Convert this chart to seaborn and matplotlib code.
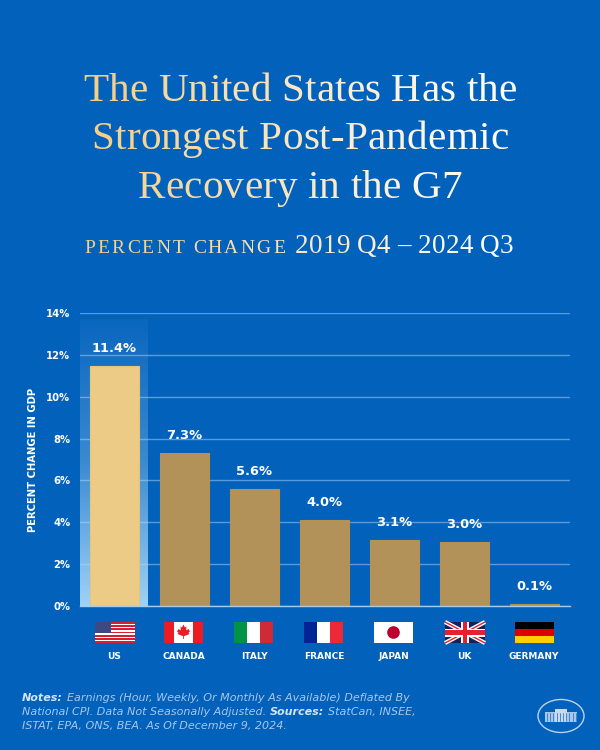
import numpy as np
import pandas as pd
import seaborn as sns
import matplotlib
matplotlib.use('Agg')
import matplotlib.pyplot as plt
from matplotlib.patches import Rectangle, Circle, Ellipse, Polygon
from matplotlib.colors import LinearSegmentedColormap, to_rgb

countries = ["US", "CANADA", "ITALY", "FRANCE", "JAPAN", "UK", "GERMANY"]
gdp_change = [11.45, 7.3, 5.6, 4.1, 3.15, 3.05, 0.1]
bar_labels = ["11.4%", "7.3%", "5.6%", "4.0%", "3.1%", "3.0%", "0.1%"]
y_ticks = [0, 2, 4, 6, 8, 10, 12, 14]
y_tick_labels = ["0%", "2%", "4%", "6%", "8%", "10%", "12%", "14%"]

BG = '#0161BB'
GOLD = '#F5CF88'
sns.set_style('white')
plt.rcParams['figure.facecolor'] = BG
plt.rcParams['savefig.facecolor'] = BG
plt.rcParams['font.family'] = 'DejaVu Sans'

fig = plt.figure(figsize=(6, 7.5), dpi=100)
ax = fig.add_axes([80 / 600, 144 / 750, 490 / 600, 293 / 750])
ax.set_facecolor(BG)

df = pd.DataFrame({'country': countries, 'change': gdp_change})
palette = ['#ECCB87'] + ['#B3925A'] * 6
sns.barplot(data=df, x='country', y='change', hue='country', palette=palette, saturation=1,
            width=0.7, legend=False, ax=ax, zorder=3)
for i, bar in enumerate(ax.patches):
    bar.set_edgecolor('#E8C477' if i == 0 else '#B78F50')
    bar.set_linewidth(0.8)

# glow behind the US bar
cmap = LinearSegmentedColormap.from_list('glow', [(0.66, 0.85, 0.98, 0.95), (0.66, 0.85, 0.98, 0.35),
                                                  (0.66, 0.85, 0.98, 0.05)])
ax.imshow(np.linspace(1, 0, 256).reshape(-1, 1), cmap=cmap, aspect='auto', extent=(-0.486, 0.48, 0, 13.7), zorder=1)

ax.set_xlim(-0.486, 6.514)
ax.set_ylim(0, 14)
ax.set_yticks(y_ticks)
ax.set_yticklabels(y_tick_labels)
ax.grid(axis='y', color='#5B9AD8', lw=1, zorder=0.5)
ax.set_axisbelow(True)
for s in ['top', 'left', 'right']:
    ax.spines[s].set_visible(False)
ax.spines['bottom'].set_color('#A5CDF2')
ax.spines['bottom'].set_linewidth(1)
ax.spines['bottom'].set_zorder(4)
ax.tick_params(axis='y', length=0, pad=7, labelcolor='white', labelsize=7.2)
ax.tick_params(axis='x', length=0, pad=33, labelcolor='white', labelsize=6.5)
for t in ax.get_xticklabels() + ax.get_yticklabels():
    t.set_fontweight('bold')
ax.set_xlabel('')
ax.set_ylabel('PERCENT CHANGE IN GDP', color='white', fontsize=7.2, fontweight='bold')
ax.yaxis.set_label_coords(-42 / 490, 0.5)

for cont, lab in zip(ax.containers, bar_labels):
    ax.bar_label(cont, labels=[lab], padding=8, color='white', fontsize=9.4, fontweight='bold', zorder=5)

# overlay in picture pixels for the title, flags and logo
ov = fig.add_axes([0, 0, 1, 1], zorder=5)
ov.set_xlim(0, 600)
ov.set_ylim(750, 0)
ov.axis('off')
ov.patch.set_alpha(0)
renderer = fig.canvas.get_renderer()


def text_width(s, **kw):
    t = ov.text(0, 0, s, **kw)
    w = t.get_window_extent(renderer).width
    t.remove()
    return w


def grad_color(x):
    f = np.clip((x - 90) / 400, 0, 1)
    a, b = np.array(to_rgb(GOLD)), np.array((1, 1, 1))
    return tuple(a + (b - a) * f)


def tracked(x0, y, s, track, **kw):
    # one character at a time so spacing and colour can vary; returns the end x
    for i, ch in enumerate(s):
        if ch != ' ':
            x = x0 + text_width(s[:i + 1], **kw) - text_width(ch, **kw) + track * i
            ov.text(x, y, ch, color=grad_color(x), va='baseline', ha='left', **kw)
    return x0 + text_width(s.rstrip() + 'x', **kw) - text_width('x', **kw) + track * len(s)


def grad_line(parts, y, shift=0):
    kw = dict(family='Liberation Serif')
    total = sum(text_width(s + 'x', fontsize=sz, **kw) - text_width('x', fontsize=sz, **kw) + tr * len(s)
                for s, sz, tr in parts)
    x = 300 - total / 2 + shift
    for s, sz, tr in parts:
        x = tracked(x, y, s, tr, fontsize=sz, **kw)


grad_line([("The United States Has the", 29.6, 0.2)], 101)
grad_line([("Strongest Post-Pandemic", 29.6, 0.2)], 149)
grad_line([("Recovery in the G7", 29.6, 0.2)], 198)
grad_line([("PERCENT CHANGE", 14.0, 2.1), ("  ", 14.0, 4), ("2019 Q4 \u2013 2024 Q3", 19.5, 0.2)], 253, shift=4)


def flag_box(x, y=622, w=39, h=21):
    ov.add_patch(Rectangle((x, y), w, h, fc='white', ec='none'))
    return x, y, w, h


# US
x, y, w, h = flag_box(95, w=40)
for i in range(0, 13, 2):
    ov.add_patch(Rectangle((x, y + i * h / 13), w, h / 13, fc='#D6202F', ec='none'))
ov.add_patch(Rectangle((x, y), w * 0.4, h * 7 / 13, fc='#3B4A82', ec='none'))
# Canada
x, y, w, h = flag_box(164)
ov.add_patch(Rectangle((x, y), 10, h, fc='#EC1C24', ec='none'))
ov.add_patch(Rectangle((x + w - 10, y), 10, h, fc='#EC1C24', ec='none'))
leaf = [(0, -8), (1.5, -5), (3, -6), (2.6, -2), (5, -3.5), (6.5, -1), (5, 0), (6, 1.5), (1, 3.5), (0.4, 3.5),
        (0.4, 6.5), (-0.4, 6.5), (-0.4, 3.5), (-1, 3.5), (-6, 1.5), (-5, 0), (-6.5, -1), (-5, -3.5), (-2.6, -2),
        (-3, -6), (-1.5, -5)]
ov.add_patch(Polygon([(x + w / 2 + a, y + h / 2 + b) for a, b in leaf], fc='#EC1C24', ec='none'))
# Italy
x, y, w, h = flag_box(234)
ov.add_patch(Rectangle((x, y), w / 3, h, fc='#009246', ec='none'))
ov.add_patch(Rectangle((x + 2 * w / 3, y), w / 3, h, fc='#CE2B37', ec='none'))
# France
x, y, w, h = flag_box(304)
ov.add_patch(Rectangle((x, y), w / 3, h, fc='#002395', ec='none'))
ov.add_patch(Rectangle((x + 2 * w / 3, y), w / 3, h, fc='#ED2939', ec='none'))
# Japan
x, y, w, h = flag_box(374)
ov.add_patch(Circle((x + w / 2, y + h / 2), 6.3, fc='#BC002D', ec='none'))
# UK
x, y, w, h = flag_box(445, w=40)
ov.add_patch(Rectangle((x, y), w, h, fc='#14215E', ec='none'))
ov.plot([x, x + w], [y, y + h], color='white', lw=3, solid_capstyle='butt')
ov.plot([x, x + w], [y + h, y], color='white', lw=3, solid_capstyle='butt')
ov.plot([x, x + w], [y, y + h], color='#E8202E', lw=1, solid_capstyle='butt')
ov.plot([x, x + w], [y + h, y], color='#E8202E', lw=1, solid_capstyle='butt')
ov.add_patch(Rectangle((x, y + h / 2 - 4), w, 8, fc='white', ec='none', zorder=3))
ov.add_patch(Rectangle((x + w / 2 - 4, y), 8, h, fc='white', ec='none', zorder=3))
ov.add_patch(Rectangle((x, y + h / 2 - 2.2), w, 4.4, fc='#E8202E', ec='none', zorder=4))
ov.add_patch(Rectangle((x + w / 2 - 2.2, y), 4.4, h, fc='#E8202E', ec='none', zorder=4))
# Germany
x, y, w, h = flag_box(515)
ov.add_patch(Rectangle((x, y), w, h / 3, fc='black', ec='none'))
ov.add_patch(Rectangle((x, y + h / 3), w, h / 3, fc='#DD0000', ec='none'))
ov.add_patch(Rectangle((x, y + 2 * h / 3), w, h / 3, fc='#FFCE00', ec='none'))

# footnote
note_c = '#A9C6EA'
note_b = '#D5E4F5'
note_kw = dict(family='DejaVu Sans', style='oblique', fontsize=8, va='baseline', ha='left')


def note_line(y, parts):
    x = 22
    for s, bold in parts:
        t = ov.text(x, y, s, color=note_b if bold else note_c, fontweight='bold' if bold else 'normal', **note_kw)
        x = t.get_window_extent(renderer).x1 + 4


note_line(701, [("Notes:", True), ("Earnings (Hour, Weekly, Or Monthly As Available) Deflated By", False)])
note_line(715, [("National CPI. Data Not Seasonally Adjusted.", False), ("Sources:", True), ("StatCan, INSEE,", False)])
note_line(729, [("ISTAT, EPA, ONS, BEA. As Of December 9, 2024.", False)])

# White House logo
ov.add_patch(Ellipse((561, 716), 46, 33, fc='none', ec='#BBD3EE', lw=1))
ov.add_patch(Rectangle((545, 712), 32, 10, fc='#A9C6EA', ec='none'))
ov.add_patch(Rectangle((555, 709), 12, 13, fc='#C7DAF0', ec='none'))
for cx in np.arange(547, 577, 3.2):
    ov.plot([cx, cx], [713, 721], color='#2F7CC8', lw=0.6)

fig.savefig('out.png', dpi=100)
